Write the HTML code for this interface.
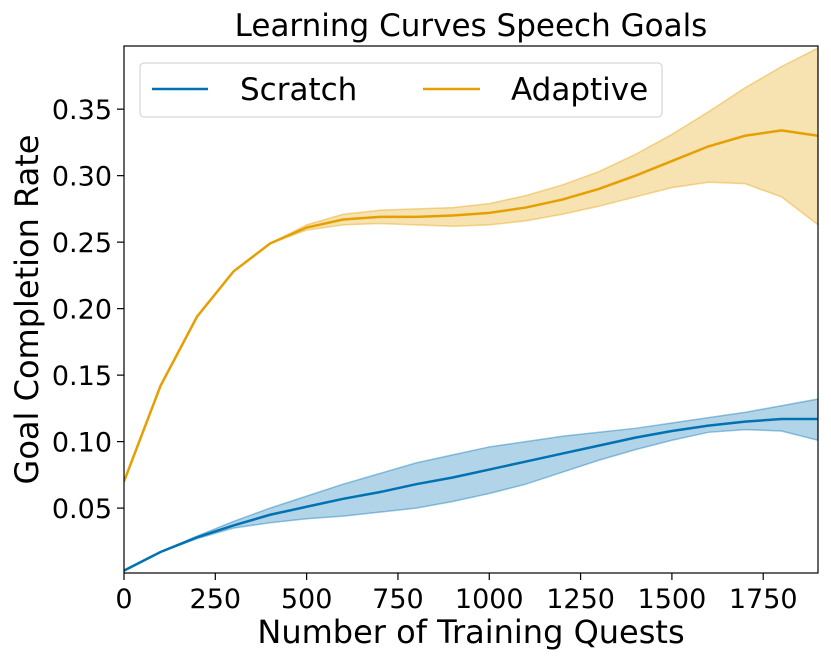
<!DOCTYPE html>
<html><head><meta charset="utf-8"><style>
body{margin:0;background:#fff;}
svg{display:block;font-family:"DejaVu Sans","Liberation Sans",sans-serif;}
</style></head><body>
<svg id="chart" width="831" height="662"></svg>
<script>
const xs=[0,100,200,300,400,500,600,700,800,900,1000,1100,1200,1300,1400,1500,1600,1700,1800,1900];
const adaptiveMean=[0.07,0.142,0.194,0.228,0.249,0.261,0.267,0.269,0.269,0.27,0.272,0.276,0.282,0.29,0.3,0.311,0.322,0.33,0.334,0.33];
const adaptiveUpper=[0.07,0.142,0.194,0.228,0.249,0.263,0.271,0.274,0.275,0.276,0.279,0.285,0.293,0.303,0.316,0.331,0.348,0.366,0.382,0.396];
const adaptiveLower=[0.07,0.142,0.194,0.228,0.249,0.259,0.263,0.264,0.263,0.262,0.263,0.266,0.271,0.277,0.284,0.291,0.295,0.294,0.284,0.263];
const scratchMean=[0.003,0.017,0.028,0.037,0.045,0.051,0.057,0.062,0.068,0.073,0.079,0.085,0.091,0.097,0.103,0.108,0.112,0.115,0.117,0.117];
const scratchUpper=[0.003,0.017,0.029,0.04,0.05,0.059,0.068,0.076,0.084,0.09,0.096,0.1,0.104,0.107,0.11,0.114,0.118,0.122,0.127,0.132];
const scratchLower=[0.003,0.017,0.027,0.035,0.039,0.042,0.044,0.047,0.05,0.055,0.061,0.068,0.077,0.086,0.094,0.101,0.107,0.109,0.108,0.101];
const xTicks=[0,250,500,750,1000,1250,1500,1750];
const yTicks=[0.05,0.10,0.15,0.20,0.25,0.30,0.35];

const L=124,R=818,T=46,B=573,xMin=0,xMax=1900,yMin=0.0012,yMax=0.3975;
const sx=v=>L+(v-xMin)/(xMax-xMin)*(R-L);
const sy=v=>B-(v-yMin)/(yMax-yMin)*(B-T);
const svg=document.getElementById('chart');
const NS='http://www.w3.org/2000/svg';
function mk(tag,attrs,parent){const e=document.createElementNS(NS,tag);for(const k in attrs)e.setAttribute(k,attrs[k]);(parent||svg).appendChild(e);return e;}

const clip=mk('clipPath',{id:'pc'});mk('rect',{x:L,y:T,width:R-L,height:B-T},clip);
const g=mk('g',{'clip-path':'url(#pc)'});
function band(up,lo,color,name){
  let d='M'+xs.map((x,i)=>sx(x)+','+sy(up[i])).join('L');
  for(let i=xs.length-1;i>=0;i--)d+='L'+sx(xs[i])+','+sy(lo[i]);
  const p=mk('path',{d:d+'Z',fill:color,'fill-opacity':0.3,stroke:color,'stroke-opacity':0.4,'stroke-width':1.5},g);
  
  
}
function line(m,color,name){
  const p=mk('path',{d:'M'+xs.map((x,i)=>sx(x)+','+sy(m[i])).join('L'),fill:'none',stroke:color,'stroke-width':2.5},g);
  
  
}
band(scratchUpper,scratchLower,'#0072B2','scratch-band');
band(adaptiveUpper,adaptiveLower,'#E69F00','adaptive-band');
line(scratchMean,'#0072B2','scratch-line');
line(adaptiveMean,'#E69F00','adaptive-line');

const frame=mk('rect',{x:L,y:T,width:R-L,height:B-T,fill:'none',stroke:'#000','stroke-width':1.2});



xTicks.forEach(v=>{
  mk('line',{x1:sx(v),x2:sx(v),y1:B,y2:B+7,stroke:'#000','stroke-width':1.2});
  const t=mk('text',{x:sx(v),y:B+35,'text-anchor':'middle','font-size':27});t.textContent=v;
  
  
});
yTicks.forEach(v=>{
  mk('line',{x1:L-7,x2:L,y1:sy(v),y2:sy(v),stroke:'#000','stroke-width':1.2});
  const t=mk('text',{x:L-12,y:sy(v)+10,'text-anchor':'end','font-size':27});t.textContent=v.toFixed(2);
  
  
});
let t=mk('text',{x:(L+R)/2,y:36,'text-anchor':'middle','font-size':31});t.textContent='Learning Curves Speech Goals';


t=mk('text',{x:(L+R)/2,y:643,'text-anchor':'middle','font-size':32});t.textContent='Number of Training Quests';


t=mk('text',{x:0,y:0,'text-anchor':'middle','font-size':32,transform:'translate(38,'+((T+B)/2)+') rotate(-90)'});t.textContent='Goal Completion Rate';



const lg=mk('g',{});


mk('rect',{x:140,y:63,width:522,height:54,rx:4,fill:'#fff','fill-opacity':0.8,stroke:'#ccc','stroke-width':1},lg);
mk('line',{x1:152,x2:208,y1:89,y2:89,stroke:'#0072B2','stroke-width':2.5},lg);
t=mk('text',{x:240,y:100,'font-size':31},lg);t.textContent='Scratch';


mk('line',{x1:423,x2:480,y1:89,y2:89,stroke:'#E69F00','stroke-width':2.5},lg);
t=mk('text',{x:511,y:100,'font-size':31},lg);t.textContent='Adaptive';


</script>
</body></html>
